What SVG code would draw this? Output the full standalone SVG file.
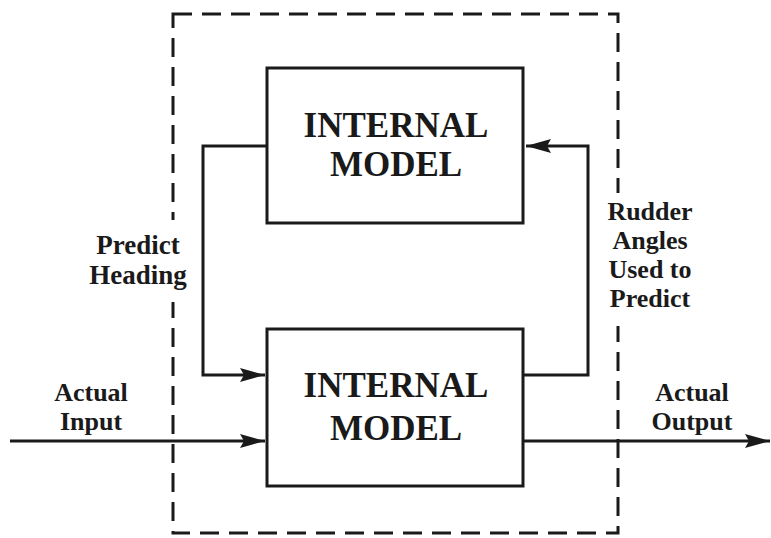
<svg xmlns="http://www.w3.org/2000/svg" width="771" height="538" viewBox="0 0 771 538">
  <style>
    .box { fill: #fff; stroke: #1a1a1a; stroke-width: 3; }
    .wire { fill: none; stroke: #1a1a1a; stroke-width: 3; }
    .boundary { fill: none; stroke: #1a1a1a; stroke-width: 3; stroke-dasharray: 19 10; }
    .knockout { fill: #fff; }
    .title { font-family: "Liberation Serif", "Times New Roman", serif; font-weight: bold; font-size: 35px; fill: #1a1a1a; text-anchor: middle; }
    .label { font-family: "Liberation Serif", "Times New Roman", serif; font-weight: bold; font-size: 26px; fill: #1a1a1a; text-anchor: middle; }
  </style>
  <defs>
    <marker id="arrow" markerUnits="userSpaceOnUse" markerWidth="26" markerHeight="16" refX="25" refY="8" orient="auto">
      <path d="M25,8 L0,1 L4,8 L0,15 Z" fill="#1a1a1a"/>
    </marker>
  </defs>

  <rect width="771" height="538" fill="#fff"/>

  <!-- system boundary -->
  <rect id="boundary" class="boundary" x="173" y="14" width="445" height="519"/>

  <!-- connectors -->
  <g id="connectors">
    <path class="wire" d="M267,146 H203 V375 H265" marker-end="url(#arrow)"/>
    <path class="wire" d="M523,375 H588 V146 H526" marker-end="url(#arrow)"/>
    <path class="wire" d="M10,441 H265" marker-end="url(#arrow)"/>
    <path class="wire" d="M523,441 H770" marker-end="url(#arrow)"/>
  </g>

  <!-- upper internal model -->
  <g id="model-top">
    <rect class="box" x="267" y="68" width="256" height="155"/>
    <text class="title" x="396" y="137">INTERNAL</text>
    <text class="title" x="396" y="176">MODEL</text>
  </g>

  <!-- lower internal model -->
  <g id="model-bottom">
    <rect class="box" x="267" y="329" width="256" height="157"/>
    <text class="title" x="396" y="397">INTERNAL</text>
    <text class="title" x="396" y="440">MODEL</text>
  </g>

  <!-- signal labels (the boundary is blanked behind them) -->
  <g id="label-predict-heading">
    <rect class="knockout" x="164" y="220" width="18" height="82"/>
    <text class="label" x="138" y="254" style="font-size:27px">Predict</text>
    <text class="label" x="138" y="284" style="font-size:27px">Heading</text>
  </g>
  <g id="label-rudder">
    <rect class="knockout" x="609" y="193" width="18" height="133"/>
    <text class="label" x="650" y="220">Rudder</text>
    <text class="label" x="650" y="249">Angles</text>
    <text class="label" x="650" y="278">Used to</text>
    <text class="label" x="650" y="307">Predict</text>
  </g>
  <g id="label-input">
    <text class="label" x="91" y="401">Actual</text>
    <text class="label" x="91" y="430">Input</text>
  </g>
  <g id="label-output">
    <text class="label" x="692" y="401">Actual</text>
    <text class="label" x="692" y="430">Output</text>
  </g>
</svg>
